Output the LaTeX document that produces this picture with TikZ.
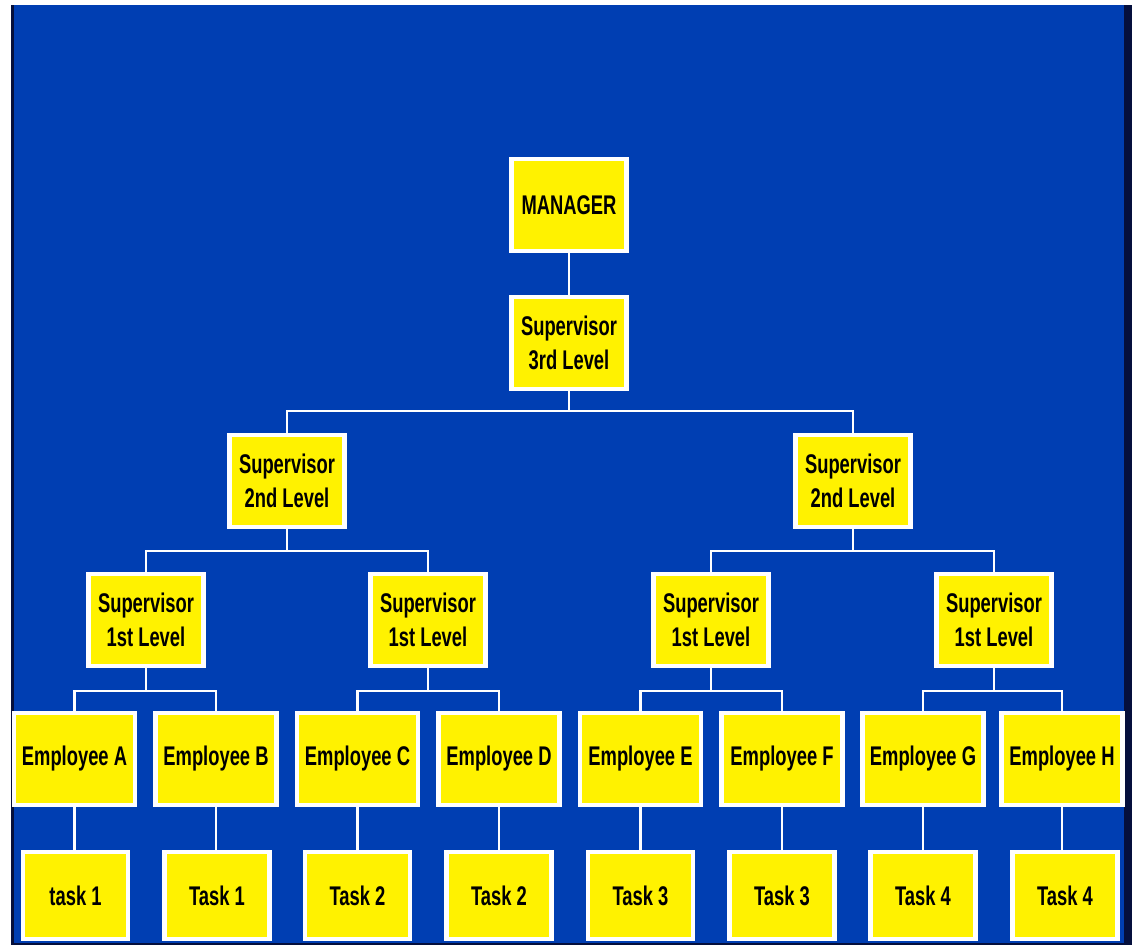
\documentclass[tikz,border=0pt]{standalone}
\usepackage{fontspec}
\setmainfont[FakeStretch=0.68]{Liberation Sans}
\definecolor{chartblue}{RGB}{0,62,178}
\definecolor{edgedark}{RGB}{5,15,60}

\begin{document}
\begin{tikzpicture}[x=0.5pt, y=0.5pt, box/.style={draw=white, line width=2.2pt, fill=yellow, text=black, align=center, inner sep=0pt, font=\bfseries\fontsize{13.5}{17}\selectfont}, top/.style={box, minimum width=57.5pt, minimum height=46pt}, emp/.style={box, minimum width=60.5pt, minimum height=46pt}, task/.style={box, minimum width=52.5pt, minimum height=43.5pt}, link/.style={draw=white, line width=1.3pt}]

% background
\useasboundingbox (0,0) rectangle (1132,945);
\fill[white] (0,0) rectangle (1132,945);
\fill[chartblue] (12,0) rectangle (1132,940);
\fill[edgedark] (11,0) rectangle (14,940);
\fill[edgedark] (1124,0) rectangle (1132,940);
\fill[edgedark] (12,0) rectangle (1132,2);

% managers and supervisors
\node[top] (mgr) at (569,740) {MANAGER};
\node[top] (s3) at (569,602) {Supervisor\\3rd Level};
\node[top] (s2l) at (287,464) {Supervisor\\2nd Level};
\node[top] (s2r) at (853,464) {Supervisor\\2nd Level};
\node[top] (s1a) at (146,325) {Supervisor\\1st Level};
\node[top] (s1b) at (428,325) {Supervisor\\1st Level};
\node[top] (s1c) at (711,325) {Supervisor\\1st Level};
\node[top] (s1d) at (994,325) {Supervisor\\1st Level};

% employees
\node[emp] (ea) at (74.5,186) {Employee A};
\node[emp] (eb) at (216,186) {Employee B};
\node[emp] (ec) at (357.5,186) {Employee C};
\node[emp] (ed) at (499,186) {Employee D};
\node[emp] (ee) at (640.5,186) {Employee E};
\node[emp] (ef) at (782,186) {Employee F};
\node[emp] (eg) at (923,186) {Employee G};
\node[emp] (eh) at (1062,186) {Employee H};

% tasks
\node[task] (ta) at (75.5,49.5) {task 1};
\node[task] (tb) at (217,49.5) {Task 1};
\node[task] (tc) at (357.5,49.5) {Task 2};
\node[task] (td) at (499,49.5) {Task 2};
\node[task] (te) at (640.5,49.5) {Task 3};
\node[task] (tf) at (782,49.5) {Task 3};
\node[task] (tg) at (923,49.5) {Task 4};
\node[task] (th) at (1065,49.5) {Task 4};

% links
\draw[link] (mgr.south) -- (s3.north);
\draw[link] (s3.south) -- ++(0,-20) -| (s2l.north);
\draw[link] (s3.south) -- ++(0,-20) -| (s2r.north);
\draw[link] (s2l.south) -- ++(0,-22) -| (s1a.north);
\draw[link] (s2l.south) -- ++(0,-22) -| (s1b.north);
\draw[link] (s2r.south) -- ++(0,-22) -| (s1c.north);
\draw[link] (s2r.south) -- ++(0,-22) -| (s1d.north);
\draw[link] (s1a.south) -- ++(0,-23) -| (ea.north);
\draw[link] (s1a.south) -- ++(0,-23) -| (eb.north);
\draw[link] (s1b.south) -- ++(0,-23) -| (ec.north);
\draw[link] (s1b.south) -- ++(0,-23) -| (ed.north);
\draw[link] (s1c.south) -- ++(0,-23) -| (ee.north);
\draw[link] (s1c.south) -- ++(0,-23) -| (ef.north);
\draw[link] (s1d.south) -- ++(0,-23) -| (eg.north);
\draw[link] (s1d.south) -- ++(0,-23) -| (eh.north);
\draw[link] (ea.south) -- (ea.south |- ta.north);
\draw[link] (eb.south) -- (eb.south |- tb.north);
\draw[link] (ec.south) -- (ec.south |- tc.north);
\draw[link] (ed.south) -- (ed.south |- td.north);
\draw[link] (ee.south) -- (ee.south |- te.north);
\draw[link] (ef.south) -- (ef.south |- tf.north);
\draw[link] (eg.south) -- (eg.south |- tg.north);
\draw[link] (eh.south) -- (eh.south |- th.north);
\end{tikzpicture}
\end{document}
